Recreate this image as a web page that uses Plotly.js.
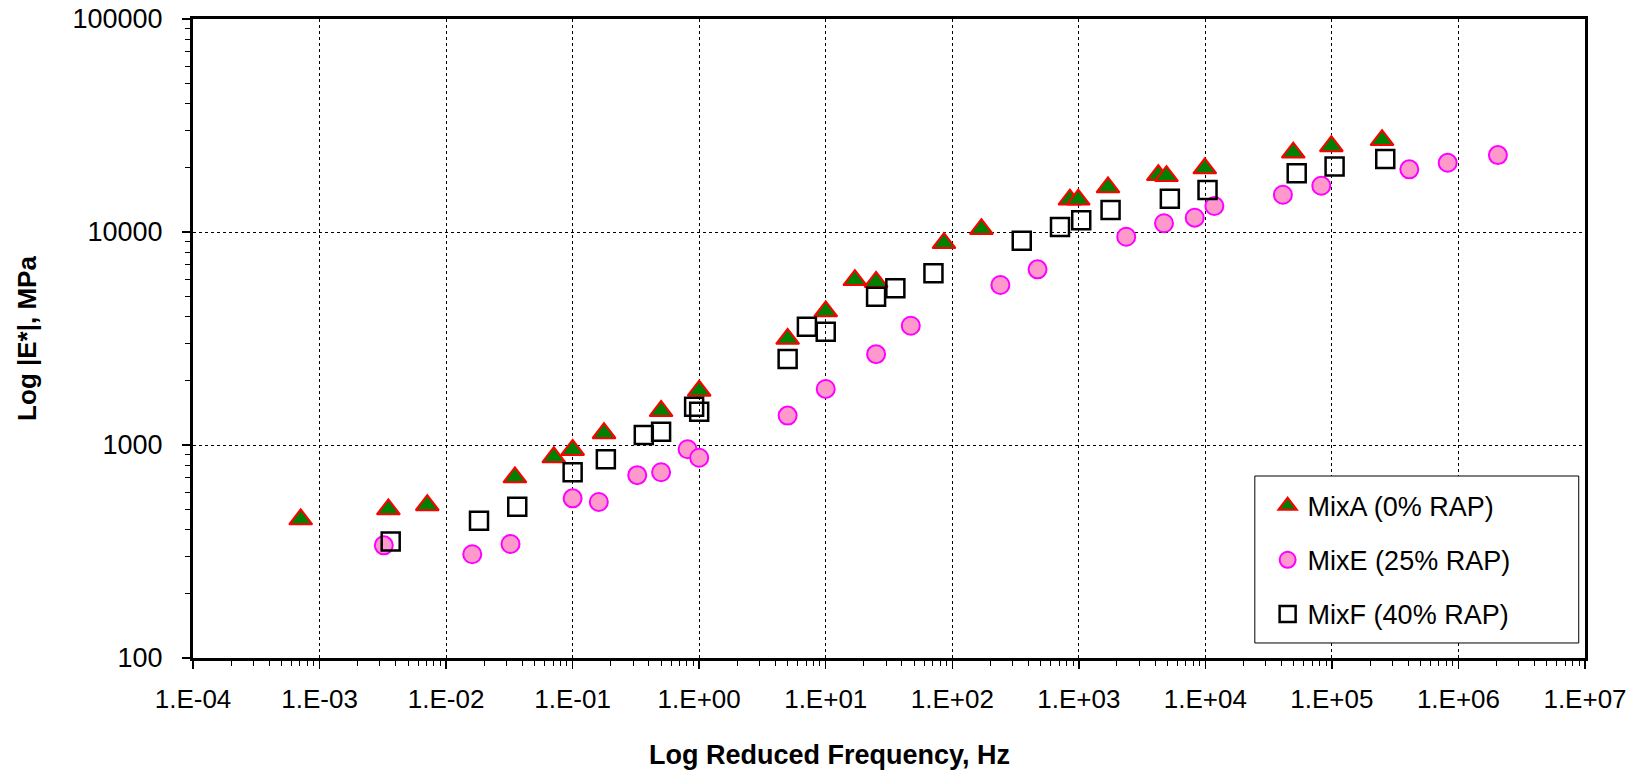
<!DOCTYPE html>
<html>
<head>
<meta charset="utf-8">
<script src="https://cdn.plot.ly/plotly-3.0.1.min.js"></script>
<style>html,body{margin:0;padding:0;background:#fff;}#chart{width:1640px;height:770px;}</style>
</head>
<body>
<div id="chart"></div>
<script>
// ---- data ----
const seriesNames = ["MixA (0% RAP)", "MixE (25% RAP)", "MixF (40% RAP)"];

const mixA_freq = [7.1e-4, 3.5e-3, 7.1e-3, 0.035, 0.071, 0.1, 0.177, 0.5, 1.0, 5.0, 10, 17, 25, 86, 170, 850, 990, 1700, 4250, 4930, 9900, 49500, 99000, 249000];
const mixA_E    = [448, 499, 522, 705, 876, 948, 1136, 1444, 1800, 3150, 4240, 5950, 5830, 8870, 10320, 14200, 14200, 16200, 18500, 18300, 19900, 23600, 25300, 27000];

const mixE_freq = [3.22e-3, 0.0161, 0.0323, 0.1, 0.161, 0.324, 0.5, 0.81, 1.0, 5.0, 10, 25, 47, 240, 472, 2370, 4710, 8240, 11780, 41000, 82400, 409000, 822000, 2.05e6];
const mixE_E    = [338, 307, 343, 562, 540, 722, 745, 955, 871, 1374, 1833, 2669, 3630, 5640, 6680, 9500, 10990, 11670, 13250, 14960, 16490, 19690, 21130, 22960];

const mixF_freq = [3.65e-3, 0.0182, 0.0365, 0.1, 0.183, 0.365, 0.5, 0.912, 1.0, 5.0, 7.1, 10, 25, 35.5, 71, 354, 710, 1045, 1782, 5240, 10400, 52700, 105000, 264000];
const mixF_E    = [352, 441, 513, 745, 857, 1114, 1154, 1513, 1433, 2535, 3590, 3400, 4970, 5450, 6400, 9100, 10550, 11350, 12680, 14320, 15740, 18890, 20300, 22030];

const xTickVals = [1e-4, 1e-3, 1e-2, 1e-1, 1e0, 1e1, 1e2, 1e3, 1e4, 1e5, 1e6, 1e7];
const xTickText = ["1.E-04", "1.E-03", "1.E-02", "1.E-01", "1.E+00", "1.E+01", "1.E+02", "1.E+03", "1.E+04", "1.E+05", "1.E+06", "1.E+07"];
const yTickVals = [100, 1000, 10000, 100000];
const yTickText = ["100", "1000", "10000", "100000"];

const xTitle = "Log Reduced Frequency, Hz";
const yTitle = "Log |E*|, MPa";

// ---- minor tick positions (2..9 within each decade) ----
function minorTicks(lo, hi) {
  const out = [];
  for (let e = lo; e < hi; e++) for (let m = 2; m <= 9; m++) out.push(m * Math.pow(10, e));
  return out;
}

const FONT = '"Liberation Sans", Arial, sans-serif';

const traces = [
  {
    x: mixA_freq, y: mixA_E, name: seriesNames[0], type: 'scatter', mode: 'markers',
    legendgroup: 'a',
    marker: {symbol: 'triangle-up', size: 20, color: '#008000', line: {color: '#FF0000', width: 2}}
  },
  {
    x: mixE_freq, y: mixE_E, name: seriesNames[1], type: 'scatter', mode: 'markers',
    legendgroup: 'e',
    marker: {symbol: 'circle', size: 18, color: '#FF99CC', line: {color: '#FF00FF', width: 2}}
  },
  {
    x: mixF_freq, y: mixF_E, name: seriesNames[2], type: 'scatter', mode: 'markers',
    legendgroup: 'f',
    marker: {symbol: 'square-open', size: 18, color: '#000000', line: {color: '#000000', width: 2.5}}
  }
];

const axisCommon = {
  type: 'log',
  showline: true, linecolor: '#000', linewidth: 3, mirror: true,
  showgrid: true, gridcolor: '#000', gridwidth: 1, griddash: 'dot',
  ticks: 'outside', ticklen: 8, tickwidth: 1.5, tickcolor: '#000',
  tickmode: 'array',
  zeroline: false
};

const layout = {
  width: 1640, height: 770,
  margin: {l: 193, r: 55, t: 19, b: 112},
  paper_bgcolor: '#fff', plot_bgcolor: '#fff',
  font: {family: FONT, color: '#000'},
  xaxis: Object.assign({}, axisCommon, {
    range: [-4, 7],
    tickvals: xTickVals, ticktext: xTickText,
    tickfont: {family: FONT, size: 26, color: '#000'},
    ticklabelstandoff: 8,
    minor: {tickmode: 'array', tickvals: minorTicks(-4, 7), ticks: 'outside', ticklen: 5, tickwidth: 1, tickcolor: '#000', showgrid: false}
  }),
  yaxis: Object.assign({}, axisCommon, {
    range: [2, 5],
    tickvals: yTickVals, ticktext: yTickText,
    tickfont: {family: FONT, size: 27, color: '#000'},
    ticklabelstandoff: 14,
    minor: {tickmode: 'array', tickvals: minorTicks(2, 5), ticks: 'outside', ticklen: 5, tickwidth: 1, tickcolor: '#000', showgrid: false}
  }),
  showlegend: true,
  legend: {
    x: 0.772, y: 0.276, xanchor: 'left', yanchor: 'top',
    bgcolor: 'rgba(0,0,0,0)', borderwidth: 0,
    font: {family: FONT, size: 27, color: '#000'},
    traceorder: 'grouped', tracegroupgap: 16,
    itemwidth: 30
  },
  shapes: [{
    type: 'rect', xref: 'paper', yref: 'paper', layer: 'above',
    x0: 0.7628, x1: 0.9955, y0: 0.0235, y1: 0.2848,
    fillcolor: '#fff', line: {color: '#000', width: 1}
  }],
  annotations: [
    {text: '<b>' + xTitle + '</b>', xref: 'paper', yref: 'paper', x: 0.457, y: -0.152,
     xanchor: 'center', yanchor: 'middle', showarrow: false,
     font: {family: FONT, size: 27, color: '#000'}},
    {text: '<b>' + yTitle + '</b>', xref: 'paper', yref: 'paper', x: -0.1197, y: 0.5,
     xanchor: 'center', yanchor: 'middle', showarrow: false, textangle: -90,
     font: {family: FONT, size: 26, color: '#000'}}
  ]
};

Plotly.newPlot('chart', traces, layout, {displayModeBar: false, staticPlot: true});
</script>
</body>
</html>
